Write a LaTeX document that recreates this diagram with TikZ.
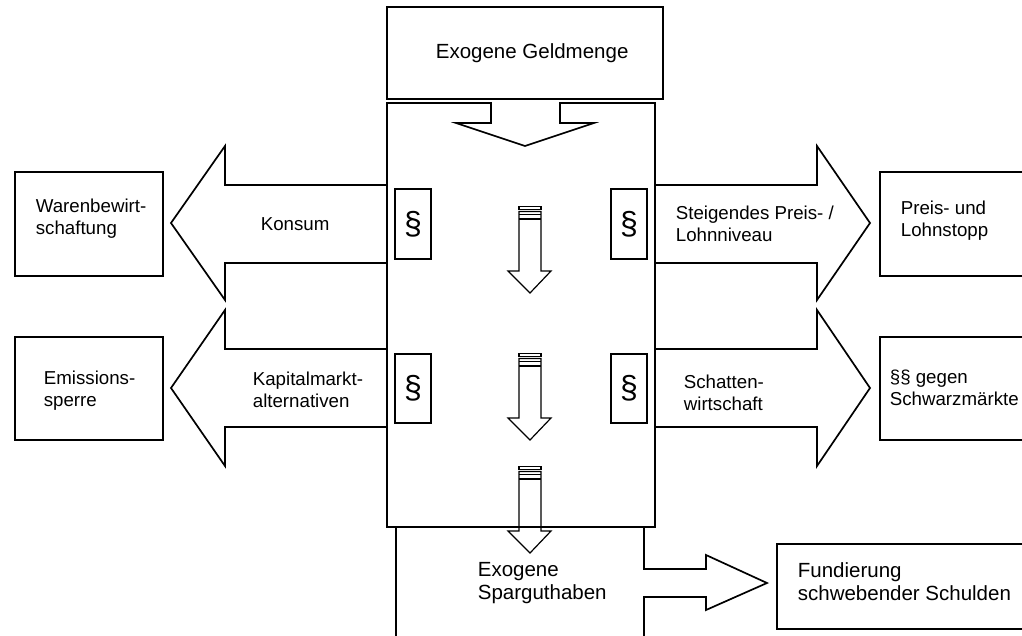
\documentclass[tikz,border=0pt]{standalone}
\usepackage{fontspec}
\setmainfont{Liberation Sans}
\begin{document}
\begin{tikzpicture}[x=1pt,y=-1pt, line width=1.7pt, line join=miter,
  box/.style={draw, fill=white, rectangle, inner sep=0pt, outer sep=0pt},
  lbl/.style={anchor=base west, align=left, inner sep=0pt, font=\fontsize{18.7}{22}\selectfont},
  big/.style={anchor=base west, align=left, inner sep=0pt, font=\fontsize{20.5}{23}\selectfont},
  para/.style={font=\fontsize{32}{32}\selectfont, inner sep=0pt},
  blk/.style={draw, fill=white},
  thin/.style={line width=1.2pt}]
\clip (0,0) rectangle (1022,636);
\fill[white] (0,0) rectangle (1022,636);

% bottom box with arrow to Fundierung
\draw[blk] (396,650) -- (396,527) -- (644,527) -- (644,569) -- (706,569) -- (706,555)
  -- (767,583) -- (706,610) -- (706,597) -- (644,597) -- (644,650);

% big side arrows
\draw[blk] (387,185) -- (225,185) -- (225,146) -- (171,223) -- (225,300) -- (225,263) -- (387,263);
\draw[blk] (387,349) -- (225,349) -- (225,310) -- (171,388) -- (225,466) -- (225,427) -- (387,427);
\draw[blk] (655,185) -- (817,185) -- (817,146) -- (870,223) -- (817,300) -- (817,263) -- (655,263);
\draw[blk] (655,349) -- (817,349) -- (817,310) -- (870,388) -- (817,466) -- (817,427) -- (655,427);

% main box fill
\fill[white] (387,103) -- (491,103) -- (491,123) -- (456,123) -- (525,146) -- (594,123)
  -- (560,123) -- (560,103) -- (655,103) -- (655,527) -- (387,527) -- cycle;

% small striped arrows
\foreach \y in {206,353,466} {
  \draw[blk,thin] (519,\y+0.5) rectangle (541,\y+3.3);
  \draw[blk,thin] (519,\y+5.5) -- (541,\y+5.5) -- (541,\y+65) -- (551,\y+65) -- (530,\y+87)
    -- (508,\y+65) -- (519,\y+65) -- cycle;
  \draw[thin] (519,\y+8.3) -- (541,\y+8.3);
  \draw[thin] (519,\y+13) -- (541,\y+13);
}

% main box outline with notch
\draw (387,103) -- (491,103) -- (491,123) -- (456,123) -- (525,146) -- (594,123)
  -- (560,123) -- (560,103) -- (655,103) -- (655,527) -- (387,527) -- cycle;

% boxes
\node[box, minimum width=276, minimum height=92] (geld) at (525,53) {};
\node[box, minimum width=148, minimum height=104] (ware) at (89,224) {};
\node[box, minimum width=148, minimum height=103] (emis) at (89,388.5) {};
\node[box, minimum width=160, minimum height=104] (stopp) at (960,224) {};
\node[box, minimum width=160, minimum height=103] (schwarz) at (960,388.5) {};
\node[box, minimum width=263, minimum height=85] (fund) at (908.5,586.5) {};
\node[box, minimum width=36, minimum height=70] (p1) at (413,224) {};
\node[box, minimum width=36, minimum height=70] (p2) at (629,224) {};
\node[box, minimum width=36, minimum height=69] (p3) at (413,388.5) {};
\node[box, minimum width=36, minimum height=69] (p4) at (629,388.5) {};
\node[para] (s1) at (p1) {§};
\node[para] (s2) at (p2) {§};
\node[para] (s3) at (p3) {§};
\node[para] (s4) at (p4) {§};

% texts (base = baseline of last line)
\node[big] (tgeld) at (435,59) {Exogene Geldmenge};
\node[lbl] (tkonsum) at (260,231) {Konsum};
\node[lbl] (tware) at (35,235) {Warenbewirt-\\schaftung};
\node[lbl] (tpreis) at (675,242) {Steigendes Preis- /\\Lohnniveau};
\node[lbl] (tstopp) at (900,237) {Preis- und\\Lohnstopp};
\node[lbl] (temis) at (43,406) {Emissions-\\sperre};
\node[lbl] (tkap) at (252,407) {Kapitalmarkt-\\alternativen};
\node[lbl] (tschatten) at (683,410) {Schatten-\\wirtschaft};
\node[lbl] (tschwarz) at (889,405) {§§ gegen\\Schwarzmärkte};
\node[big] (tspar) at (477,599) {Exogene\\Sparguthaben};
\node[big] (tfund) at (797,600) {Fundierung\\schwebender Schulden};
\end{tikzpicture}
\end{document}
